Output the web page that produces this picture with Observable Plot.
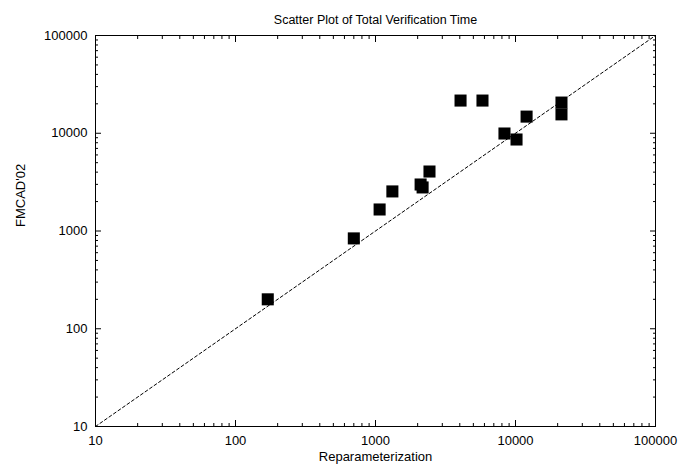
<!DOCTYPE html>
<html>
<head>
<meta charset="utf-8">
<script src="https://cdn.jsdelivr.net/npm/d3@7"></script>
<script src="https://cdn.jsdelivr.net/npm/@observablehq/plot@0.6"></script>
<style>
  html, body { margin: 0; padding: 0; background: #fff; }
</style>
</head>
<body>
<div id="chart"></div>
<script>
const titleText = "Scatter Plot of Total Verification Time";
const xLabel = "Reparameterization";
const yLabel = "FMCAD'02";

// Reparameterization (x) and FMCAD'02 (y) total verification times
const reparam = [170, 700, 1070, 1320, 2100, 2170, 2430, 4050, 5810, 8340, 10170, 12000, 21300, 21300];
const fmcad   = [200, 840, 1660, 2540, 2990, 2790, 4060, 21600, 21600, 9940, 8630, 14800, 20600, 15600];

const majorTicks = [10, 100, 1000, 10000, 100000];
const minorTicks = [2,3,4,5,6,7,8,9].flatMap(m => [10, 100, 1000, 10000].map(d => m * d));
const diagonal = [10, 100000];

const points = reparam.map((x, i) => ({x, y: fmcad[i]}));
const fmt = d3.format("d");

const chart = Plot.plot({
  width: 680,
  height: 474,
  marginLeft: 95,
  marginRight: 25,
  marginTop: 35,
  marginBottom: 48,
  style: {fontFamily: "'Liberation Sans', Arial, Helvetica, sans-serif", fontSize: "13px", color: "#000", background: "#fff"},
  x: {type: "log", domain: [10, 100000], nice: false},
  y: {type: "log", domain: [10, 100000], nice: false},
  marks: [
    Plot.line(diagonal, {x: d => d, y: d => d, stroke: "#000", strokeWidth: 1, strokeDasharray: "3,2.5"}),
    Plot.dot(points, {x: "x", y: "y", symbol: "square", r: 6.8, fill: "#000", stroke: "none"}),
    // inward major ticks on all four sides
    Plot.axisX({anchor: "bottom", ticks: majorTicks, tickSize: 6, dy: -6, text: null, label: null}),
    Plot.axisX({anchor: "top", ticks: majorTicks, tickSize: 6, dy: 6, text: null, label: null}),
    Plot.axisY({anchor: "left", ticks: majorTicks, tickSize: 6, dx: 6, text: null, label: null}),
    Plot.axisY({anchor: "right", ticks: majorTicks, tickSize: 6, dx: -6, text: null, label: null}),
    // inward minor ticks
    Plot.axisX({anchor: "bottom", ticks: minorTicks, tickSize: 3, dy: -3, text: null, label: null}),
    Plot.axisX({anchor: "top", ticks: minorTicks, tickSize: 3, dy: 3, text: null, label: null}),
    Plot.axisY({anchor: "left", ticks: minorTicks, tickSize: 3, dx: 3, text: null, label: null}),
    Plot.axisY({anchor: "right", ticks: minorTicks, tickSize: 3, dx: -3, text: null, label: null}),
    // tick labels
    Plot.axisX({anchor: "bottom", ticks: majorTicks, tickSize: 0, tickPadding: 9, tickFormat: fmt, label: null, fontSize: 13}),
    Plot.axisY({anchor: "left", ticks: majorTicks, tickSize: 0, tickPadding: 8, tickFormat: fmt, label: null, fontSize: 13}),
    Plot.frame({stroke: "#000", strokeWidth: 1}),
    // title and axis labels
    Plot.text([titleText], {text: d => d, frameAnchor: "top", dy: -20, fontSize: 12.5}),
    Plot.text([xLabel], {text: d => d, frameAnchor: "bottom", dy: 34, fontSize: 13}),
    Plot.text([yLabel], {text: d => d, frameAnchor: "left", dx: -75, dy: -4, rotate: -90, fontSize: 13})
  ]
});

document.getElementById("chart").appendChild(chart);
</script>
</body>
</html>
